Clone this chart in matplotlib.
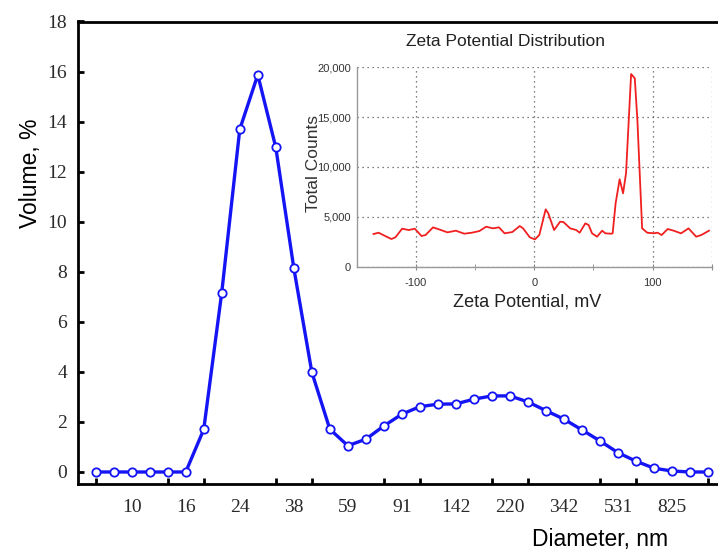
import numpy as np
import matplotlib
matplotlib.use('Agg')
import matplotlib.pyplot as plt

# size distribution (volume %), one value per size bin
volume = [0, 0, 0, 0, 0, 0, 1.7, 7.17, 13.69, 15.87, 12.97, 8.15, 3.99, 1.71,
          1.05, 1.31, 1.84, 2.31, 2.61, 2.71, 2.72, 2.91, 3.04, 3.04, 2.8, 2.45,
          2.11, 1.68, 1.24, 0.77, 0.43, 0.15, 0.04, 0, 0]
diam_labels = ['10', '16', '24', '38', '59', '91', '142', '220', '342', '531', '825']
diam_label_bins = [2, 5, 8, 11, 14, 17, 20, 23, 26, 29, 32]

# zeta potential distribution
zeta_mv = [-135.8, -131.5, -125.9, -120.7, -117.3, -111.6, -106, -100.9, -95.2,
           -91.8, -85.5, -80.4, -73.3, -66.2, -59.1, -52.6, -46.3, -40.6, -34.9,
           -29.8, -25, -18.5, -12.2, -9.4, -3.7, 0.6, 4.3, 9.7, 11.9, 16.8, 21.9,
           24.7, 30.4, 35.5, 38.4, 43.2, 46, 48.9, 53.1, 57.4, 60.2, 65.1, 66.3,
           68.8, 72.2, 75.1, 77.6, 81.9, 85.0, 87.2, 91.2, 95.5, 101.1, 104.3,
           107.7, 112.8, 117.9, 124.1, 130.4, 136.9, 141.2, 147.7]
zeta_counts = [3277, 3411, 3076, 2775, 2943, 3812, 3678, 3812, 3076, 3177, 3946,
               3745, 3444, 3612, 3310, 3411, 3578, 4013, 3846, 3946, 3344, 3478,
               4080, 3846, 2943, 2742, 3177, 5752, 5350, 3678, 4514, 4481, 3846,
               3678, 3411, 4347, 4180, 3344, 3010, 3612, 3344, 3310, 3350, 6354,
               8766, 7362, 9368, 19328, 18896, 14714, 3852, 3410, 3350, 3411,
               3177, 3779, 3612, 3344, 3846, 3010, 3177, 3612]


def main():
    fig = plt.figure(figsize=(7.18, 5.52), dpi=100)
    ax = fig.add_axes([78/718, 1-484/552, 640/718, 462.5/552])
    bins = np.arange(len(volume))
    ax.plot(bins, volume, '-o', color='#1414f5', lw=2.4, ms=6,
            mfc='white', mec='#1414f5', mew=1.3, zorder=3)
    ax.set_xlim(-0.98, 34.55)
    ax.set_ylim(-0.48, 18)
    ax.spines['right'].set_visible(False)
    for s in ['left', 'bottom', 'top']:
        ax.spines[s].set_linewidth(2)
    ax.set_yticks(np.arange(0, 19, 2))
    ax.set_xticks(diam_label_bins)
    ax.set_xticklabels(diam_labels)
    ax.set_xticks(np.arange(0, 35, 2), minor=True)
    ax.tick_params(axis='x', which='major', length=0, pad=11)
    ax.tick_params(axis='x', which='minor', direction='in', length=4, width=2)
    ax.tick_params(axis='y', direction='in', length=4, width=2, pad=8)
    for lab in ax.get_xticklabels() + ax.get_yticklabels():
        lab.set_fontfamily('Liberation Serif')
        lab.set_fontsize(14)
        lab.set_color('#2a2a2a')
    ax.set_ylabel('Volume, %', fontfamily='Liberation Sans', fontsize=16.5,
                  va='center')
    ax.yaxis.set_label_coords(-0.075, 0.672)
    ax.set_xlabel('Diameter, nm', fontfamily='Liberation Sans', fontsize=16.5,
                  va='center')
    ax.xaxis.set_label_coords(0.816, -0.121)

    # inset
    ins = fig.add_axes([356.7/718, 1-266.7/552, 355/718, 199.4/552])
    ins.set_facecolor('white')
    ins.plot(zeta_mv, zeta_counts, color='#f02020', lw=1.3)
    ins.set_xlim(-150, 150)
    ins.set_ylim(0, 20000)
    ins.set_xticks([-100, 0, 100, 150])
    ins.set_xticklabels(['-100', '0', '100', ''])
    ins.set_xticks([-50, 50], minor=True)
    ins.set_yticks([0, 5000, 10000, 15000, 20000])
    ins.set_yticklabels(['0', '5,000', '10,000', '15,000', '20,000'])
    ins.grid(True, which='major', linestyle=(0, (1, 3)), color='#555555', lw=0.9)
    for s in ['top', 'right']:
        ins.spines[s].set_visible(False)
    for s in ['left', 'bottom']:
        ins.spines[s].set_color('#999999')
        ins.spines[s].set_linewidth(1)
    ins.tick_params(which='both', direction='inout', length=4, color='#888888',
                    labelsize=8, labelcolor='#333333')
    ins.tick_params(axis='x', pad=6)
    ins.tick_params(axis='y', length=0, pad=4)
    for lab in ins.get_xticklabels() + ins.get_yticklabels():
        lab.set_fontfamily('Liberation Sans')
    ins.set_title('Zeta Potential Distribution', fontfamily='Liberation Sans',
                  fontsize=12.5, color='#222222', va='center', x=0.418, y=1.128,
                  pad=0)
    ins.set_ylabel('Total Counts', fontfamily='Liberation Sans', fontsize=12.5,
                   color='#333333', va='center')
    ins.yaxis.set_label_coords(-0.123, 0.52)
    ins.set_xlabel('Zeta Potential, mV', fontfamily='Liberation Sans',
                   fontsize=13, color='#222222', va='center')
    ins.xaxis.set_label_coords(0.479, -0.176)

    fig.savefig('out.png', dpi=100)


if __name__ == '__main__':
    main()
